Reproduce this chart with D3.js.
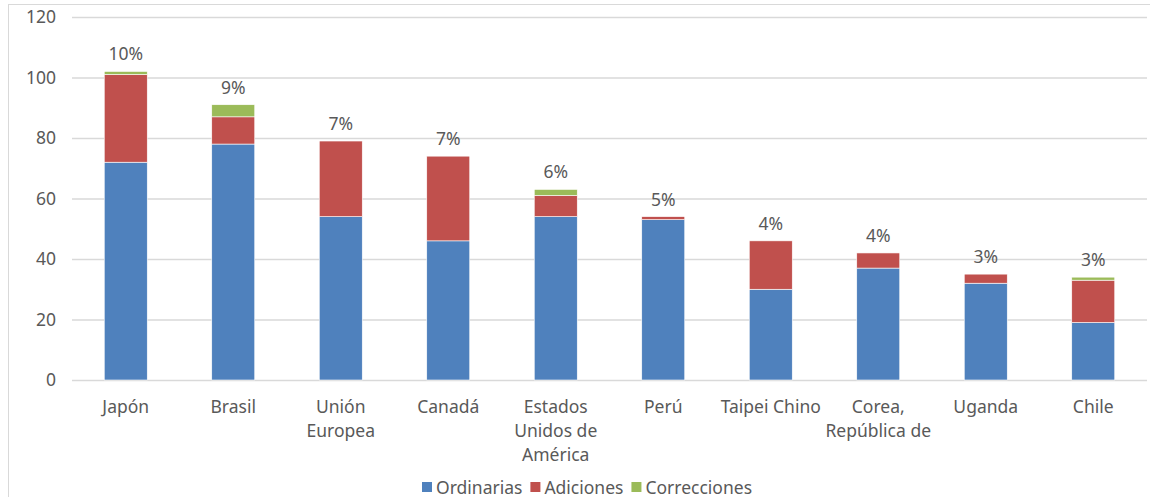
<!DOCTYPE html>
<html>
<head>
<meta charset="utf-8">
<script src="https://cdn.jsdelivr.net/npm/d3@7"></script>
<style>
  body { margin: 0; background: #fff; }
  text { font-family: "Noto Sans", "Open Sans", sans-serif; fill: #595959; }
</style>
</head>
<body>
<svg width="1150" height="497"></svg>
<script>
const svg = d3.select("svg");
const width = +svg.attr("width");
const height = +svg.attr("height");

// Chart data
const categories = ["Japón", "Brasil", "Unión\nEuropea", "Canadá", "Estados\nUnidos de\nAmérica",
    "Perú", "Taipei Chino", "Corea,\nRepública de", "Uganda", "Chile"];
const ordinarias = [72, 78, 54, 46, 54, 53, 30, 37, 32, 19];
const adiciones = [29, 9, 25, 28, 7, 1, 16, 5, 3, 14];
const correcciones = [1, 4, 0, 0, 2, 0, 0, 0, 0, 1];
const shareLabels = ["10%", "9%", "7%", "7%", "6%", "5%", "4%", "4%", "3%", "3%"];
const seriesNames = ["Ordinarias", "Adiciones", "Correcciones"];
const colors = ["#4f81bd", "#c0504d", "#9bbb59"];
const yTicks = [0, 20, 40, 60, 80, 100, 120];

const fontSize = 17.5;
const margin = { top: 17, left: 72, right: 3, bottom: 117 };
const plotW = width - margin.left - margin.right;
const plotH = height - margin.top - margin.bottom;

// light chart border
svg.append("rect")
    .attr("x", 8.5).attr("y", 4.5)
    .attr("width", width).attr("height", height)
    .attr("fill", "none").attr("stroke", "#d9d9d9");

const g = svg.append("g")
    .attr("transform", `translate(${margin.left},${margin.top})`);

const x = d3.scaleBand().domain(categories).range([0, plotW]).paddingInner(0.6).paddingOuter(0.3);
const y = d3.scaleLinear().domain([0, 120]).range([plotH, 0]);

// gridlines + y labels
const yAxis = g.append("g").call(d3.axisLeft(y).tickValues(yTicks).tickSize(-plotW).tickPadding(16));
yAxis.select(".domain").remove();
yAxis.selectAll(".tick line").attr("stroke", "#d9d9d9").attr("stroke-width", 1.3);
yAxis.selectAll(".tick text").attr("font-size", fontSize).attr("fill", "#595959")
    .attr("font-family", "'Noto Sans', sans-serif");

// stacked bars
const rows = categories.map((c, i) => ({ cat: c, Ordinarias: ordinarias[i], Adiciones: adiciones[i], Correcciones: correcciones[i] }));
const stacked = d3.stack().keys(seriesNames)(rows);

g.selectAll("g.series").data(stacked).enter().append("g")
    .attr("class", "series")
    .attr("fill", (d, i) => colors[i])
    .selectAll("rect").data(d => d.filter(p => p[1] > p[0])).enter().append("rect")
    .attr("x", d => x(d.data.cat))
    .attr("width", x.bandwidth())
    .attr("y", d => y(d[1]))
    .attr("height", d => y(d[0]) - y(d[1]))
    .attr("stroke", "#fff").attr("stroke-width", 0.6);

// share labels above bars
g.selectAll("text.share").data(rows).enter().append("text")
    .attr("class", "share")
    .attr("x", d => x(d.cat) + x.bandwidth() / 2)
    .attr("y", (d, i) => y(ordinarias[i] + adiciones[i] + correcciones[i]) - 11)
    .attr("text-anchor", "middle")
    .attr("font-size", fontSize)
    .text((d, i) => shareLabels[i]);

// category labels
const xLabels = g.append("g").attr("transform", `translate(0,${plotH})`);
categories.forEach(c => {
    const t = xLabels.append("text")
        .attr("x", x(c) + x.bandwidth() / 2)
        .attr("y", 33)
        .attr("text-anchor", "middle")
        .attr("font-size", fontSize);
    c.split("\n").forEach((line, j) => {
        t.append("tspan").attr("x", x(c) + x.bandwidth() / 2).attr("dy", j === 0 ? 0 : 24).text(line);
    });
});

// legend
const legend = svg.append("g").attr("transform", "translate(422,482)");
let lx = 0;
seriesNames.forEach((name, i) => {
    legend.append("rect").attr("x", lx).attr("y", 0).attr("width", 10).attr("height", 10).attr("fill", colors[i]);
    const t = legend.append("text").attr("x", lx + 14).attr("y", 11.5).attr("font-size", fontSize).text(name);
    lx += 14 + t.node().getComputedTextLength() + 8;
});
</script>
</body>
</html>
